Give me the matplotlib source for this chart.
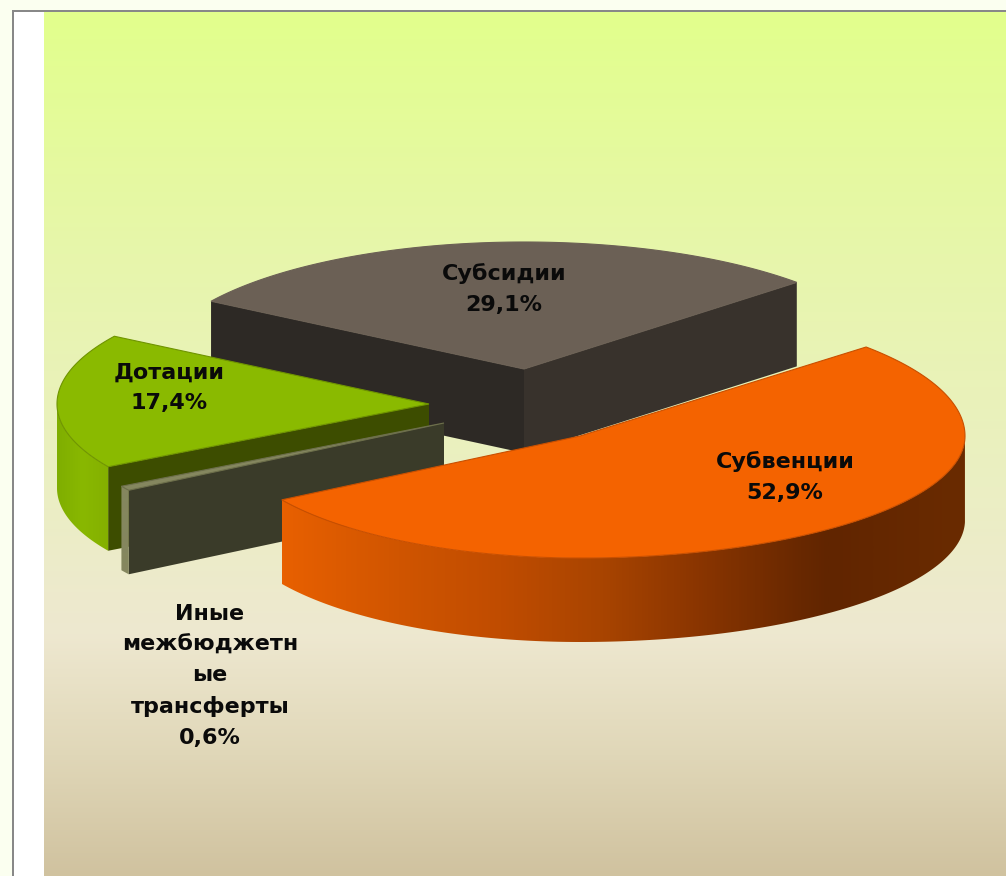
import numpy as np
import matplotlib
matplotlib.use("Agg")
import matplotlib.pyplot as plt
from matplotlib.colors import LinearSegmentedColormap
from matplotlib.patches import Polygon

# chart data, in the order the slices go round the pie
categories = ["Субсидии", "Дотации", "Иные\nмежбюджетн\nые\nтрансферты", "Субвенции"]
shares = [29.1, 17.4, 0.6, 52.9]

START_ANGLE = 43.0
DEPTH = 84

# apex x, apex y, rx left, rx right, ry upper, ry lower, turn (exploded slices, in pixels)
layout = [
    (524, 369, 370, 373, 127, 125, 0),
    (429, 404, 372, 372, 127, 124, 0),
    (444, 423, 374, 374, 125, 125, 0),
    (580, 436, 350, 385, 133, 122, -1),
]
top_colors = ["#6b6055", "#8aba00", "#85875f", "#f46300"]
inner_face = ["#2d2925", "#3d4d00", "#3a3b29", None]
edge_colors = ["#6b6055", "#6f9400", "#6d6f4c", "#c94f00"]
label_pos = [(504, 289), (169, 388), (210, 676), (785, 477)]


def slice_arc(apex, a0, a1, n=200):
    x0, y0, rxl, rxr, ryu, ryl, turn = apex
    t = np.radians(np.linspace(a0 + turn, a1 + turn, n))
    c, s = np.cos(t), np.sin(t)
    return np.column_stack([x0 + np.where(c < 0, rxl, rxr) * c,
                            y0 - np.where(s > 0, ryu, ryl) * s])


def gradient_fill(ax, poly, colors, extent, zorder):
    # horizontal gradient cut to the shape of the patch
    cmap = LinearSegmentedColormap.from_list("side", colors)
    im = ax.imshow(np.linspace(0, 1, 512)[None, :], cmap=cmap, aspect="auto",
                   extent=extent, zorder=zorder)
    ax.add_patch(poly)
    im.set_clip_path(poly)


plt.rcParams["font.family"] = ["DejaVu Sans"]
fig = plt.figure(figsize=(10.06, 8.76), dpi=100, facecolor="#fbfff0")
ax = fig.add_axes([0, 0, 1, 1])

# page and background panel
bg = LinearSegmentedColormap.from_list("bg", [
    (0.0, "#e2ff8c"), (0.28, "#e7f6ab"), (0.55, "#ebefc3"),
    (0.72, "#eee8d0"), (0.86, "#e0d7b8"), (1.0, "#d0c29f")], N=1024)
ax.imshow(np.linspace(0, 1, 1024)[:, None], cmap=bg, aspect="auto",
          extent=(44, 1006, 876, 12), zorder=1)
ax.fill_between([14, 44], 12, 876, color="white", lw=0, zorder=1)
ax.fill_between([12, 14], 10, 876, color="#888888", lw=0, zorder=1)
ax.fill_between([12, 1006], 10, 12, color="#888888", lw=0, zorder=1)

# angles come from the shares
ends = START_ANGLE + np.cumsum(shares) * 3.6
starts = np.r_[START_ANGLE, ends[:-1]]
side_grad = [None, ["#7fae00", "#89b800", "#84b000"], ["#85875f", "#85875f"],
             [(0.0, "#e86000"), (0.17, "#d05500"), (0.32, "#c04c00"), (0.47, "#a84400"),
              (0.61, "#8a3500"), (0.76, "#682800"), (0.8, "#612500"), (1.0, "#6a2b00")]]

for i in range(len(shares)):
    apex = layout[i]
    p = np.array(apex[:2], dtype=float)
    down = np.array([0, DEPTH])
    arc = slice_arc(apex, starts[i], ends[i])
    z = 2 + i * 5
    # flat faces running in from the rim
    if inner_face[i]:
        q = arc[-1]
        ax.add_patch(Polygon([p, q, q + down, p + down], color=inner_face[i], lw=0, zorder=z))
    if i == 0:
        q = arc[0]
        ax.add_patch(Polygon([p, q, q + down, p + down], color="#38322c", lw=0, zorder=z))
    # rim, only the lower half of the ellipse can be seen
    a0, a1 = max(starts[i], 180), min(ends[i], 360)
    if side_grad[i] and a1 > a0:
        rim_arc = slice_arc(apex, a0, a1)
        rim = np.vstack([rim_arc, rim_arc[::-1] + down])
        poly = Polygon(rim, facecolor="none", edgecolor="none", zorder=z + 1)
        gradient_fill(ax, poly, side_grad[i],
                      (rim_arc[:, 0].min(), rim_arc[:, 0].max(), 876, 0), z + 1)
    # top
    top = np.vstack([p, arc])
    ax.add_patch(Polygon(top, facecolor=top_colors[i], edgecolor=edge_colors[i], lw=0.8, zorder=z + 2))

for i, (name, val) in enumerate(zip(categories, shares)):
    label = "%s\n%s%%" % (name, str(val).replace(".", ","))
    ax.text(label_pos[i][0], label_pos[i][1], label, ha="center", va="center",
            fontsize=16, fontweight="bold", color="#0a0a0a", linespacing=1.65, zorder=40)

ax.set_xlim(0, 1006)
ax.set_ylim(876, 0)
ax.axis("off")
fig.savefig("out.png", dpi=100, facecolor=fig.get_facecolor())
